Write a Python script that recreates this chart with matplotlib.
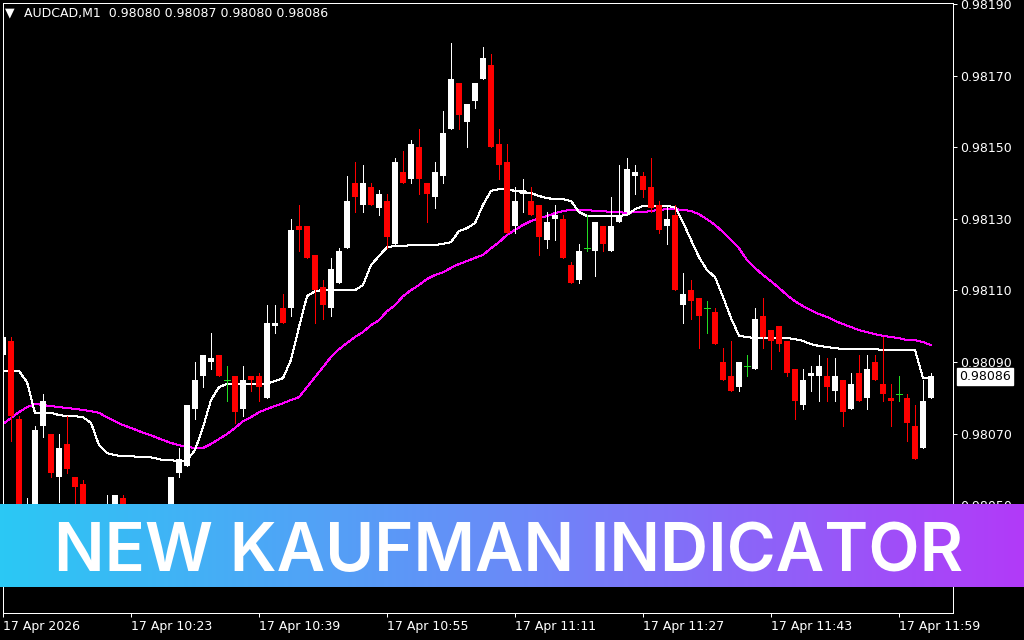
#!/usr/bin/env python3
# -*- coding: utf-8 -*-

"""AUDCAD M1 candles with Kaufman adaptive MA and a promo banner."""

import matplotlib
matplotlib.use("Agg")
import matplotlib.pyplot as plt
from matplotlib.colors import LinearSegmentedColormap
import numpy as np

# one-minute bars, 10:07 .. 12:03
opens = [
    0.98092, 0.98096, 0.98074, 0.98040, 0.98048, 0.98072, 0.98070, 0.98058, 0.98067, 0.98058,
    0.98056, 0.98045, 0.98039, 0.98041, 0.98045, 0.98052, 0.98043, 0.98036, 0.98038, 0.98041,
    0.98035, 0.98045, 0.98059, 0.98061, 0.98077, 0.98086, 0.98090, 0.98092, 0.98085, 0.98086,
    0.98077, 0.98086, 0.98086, 0.98080, 0.98100, 0.98105, 0.98105, 0.98128, 0.98128, 0.98120,
    0.98111, 0.98105, 0.98112, 0.98122, 0.98140, 0.98134, 0.98139, 0.98133, 0.98135, 0.98123,
    0.98143, 0.98141, 0.98150, 0.98140, 0.98136, 0.98142, 0.98155, 0.98168, 0.98157, 0.98163,
    0.98169, 0.98173, 0.98151, 0.98146, 0.98128, 0.98137, 0.98135, 0.98134, 0.98124, 0.98130,
    0.98130, 0.98117, 0.98113, 0.98122, 0.98121, 0.98128, 0.98121, 0.98129, 0.98132, 0.98142,
    0.98142, 0.98139, 0.98134, 0.98128, 0.98131, 0.98106, 0.98110, 0.98108, 0.98105, 0.98104,
    0.98090, 0.98086, 0.98083, 0.98089, 0.98088, 0.98103, 0.98099, 0.98100, 0.98096, 0.98088,
    0.98078, 0.98086, 0.98086, 0.98086, 0.98082, 0.98085, 0.98077, 0.98087, 0.98080, 0.98090,
    0.98084, 0.98080, 0.98081, 0.98080, 0.98072, 0.98066, 0.98080,
]
highs = [
    0.98100, 0.98097, 0.98075, 0.98052, 0.98072, 0.98081, 0.98070, 0.98070, 0.98075, 0.98058,
    0.98057, 0.98048, 0.98044, 0.98053, 0.98053, 0.98053, 0.98046, 0.98040, 0.98044, 0.98043,
    0.98047, 0.98058, 0.98066, 0.98078, 0.98090, 0.98092, 0.98098, 0.98092, 0.98089, 0.98086,
    0.98089, 0.98086, 0.98087, 0.98106, 0.98106, 0.98109, 0.98130, 0.98134, 0.98128, 0.98120,
    0.98113, 0.98119, 0.98122, 0.98142, 0.98146, 0.98145, 0.98140, 0.98138, 0.98137, 0.98147,
    0.98149, 0.98152, 0.98155, 0.98140, 0.98146, 0.98160, 0.98179, 0.98168, 0.98162, 0.98168,
    0.98178, 0.98176, 0.98155, 0.98151, 0.98139, 0.98141, 0.98139, 0.98134, 0.98132, 0.98134,
    0.98131, 0.98118, 0.98123, 0.98131, 0.98129, 0.98128, 0.98136, 0.98145, 0.98147, 0.98145,
    0.98143, 0.98147, 0.98135, 0.98134, 0.98134, 0.98115, 0.98113, 0.98108, 0.98107, 0.98105,
    0.98094, 0.98096, 0.98090, 0.98092, 0.98105, 0.98108, 0.98099, 0.98100, 0.98096, 0.98088,
    0.98088, 0.98089, 0.98092, 0.98091, 0.98091, 0.98085, 0.98087, 0.98092, 0.98092, 0.98092,
    0.98097, 0.98084, 0.98086, 0.98081, 0.98078, 0.98085, 0.98087,
]
lows = [
    0.98089, 0.98068, 0.98043, 0.98038, 0.98046, 0.98069, 0.98058, 0.98051, 0.98059, 0.98050,
    0.98042, 0.98036, 0.98034, 0.98038, 0.98043, 0.98040, 0.98034, 0.98030, 0.98035, 0.98033,
    0.98034, 0.98043, 0.98058, 0.98061, 0.98074, 0.98083, 0.98088, 0.98086, 0.98079, 0.98073,
    0.98075, 0.98082, 0.98079, 0.98080, 0.98098, 0.98101, 0.98103, 0.98121, 0.98119, 0.98101,
    0.98102, 0.98103, 0.98112, 0.98122, 0.98132, 0.98132, 0.98134, 0.98131, 0.98122, 0.98123,
    0.98140, 0.98140, 0.98137, 0.98129, 0.98133, 0.98140, 0.98155, 0.98155, 0.98150, 0.98161,
    0.98169, 0.98150, 0.98141, 0.98126, 0.98126, 0.98132, 0.98131, 0.98120, 0.98122, 0.98124,
    0.98119, 0.98112, 0.98112, 0.98121, 0.98114, 0.98121, 0.98121, 0.98129, 0.98132, 0.98137,
    0.98136, 0.98132, 0.98126, 0.98123, 0.98110, 0.98101, 0.98102, 0.98094, 0.98098, 0.98095,
    0.98085, 0.98082, 0.98082, 0.98086, 0.98088, 0.98094, 0.98088, 0.98093, 0.98086, 0.98074,
    0.98077, 0.98082, 0.98079, 0.98079, 0.98079, 0.98072, 0.98077, 0.98079, 0.98077, 0.98085,
    0.98079, 0.98072, 0.98079, 0.98068, 0.98063, 0.98066, 0.98080,
]
closes = [
    0.98097, 0.98075, 0.98046, 0.98049, 0.98071, 0.98079, 0.98059, 0.98066, 0.98060, 0.98055,
    0.98045, 0.98039, 0.98042, 0.98048, 0.98053, 0.98043, 0.98036, 0.98038, 0.98041, 0.98035,
    0.98045, 0.98058, 0.98063, 0.98078, 0.98085, 0.98092, 0.98091, 0.98086, 0.98085, 0.98076,
    0.98085, 0.98085, 0.98083, 0.98101, 0.98101, 0.98101, 0.98127, 0.98127, 0.98119, 0.98110,
    0.98106, 0.98116, 0.98121, 0.98135, 0.98136, 0.98140, 0.98134, 0.98137, 0.98125, 0.98146,
    0.98140, 0.98151, 0.98141, 0.98137, 0.98143, 0.98154, 0.98169, 0.98159, 0.98162, 0.98168,
    0.98175, 0.98150, 0.98145, 0.98126, 0.98135, 0.98138, 0.98131, 0.98125, 0.98129, 0.98131,
    0.98119, 0.98112, 0.98121, 0.98122, 0.98129, 0.98123, 0.98128, 0.98131, 0.98144, 0.98143,
    0.98138, 0.98133, 0.98127, 0.98130, 0.98110, 0.98109, 0.98107, 0.98103, 0.98105, 0.98095,
    0.98085, 0.98082, 0.98090, 0.98089, 0.98102, 0.98097, 0.98096, 0.98095, 0.98087, 0.98079,
    0.98085, 0.98087, 0.98089, 0.98083, 0.98086, 0.98076, 0.98084, 0.98079, 0.98088, 0.98085,
    0.98081, 0.98079, 0.98081, 0.98073, 0.98063, 0.98079, 0.98086,
]

# Kaufman adaptive moving average (white) and slow average (magenta)
kama = [
    0.980875, 0.980875, 0.980875, 0.980844, 0.980758, 0.980758, 0.980758, 0.980752, 0.980749, 0.980749,
    0.980746, 0.980730, 0.980668, 0.980646, 0.980640, 0.980637, 0.980637, 0.980635, 0.980635, 0.980632,
    0.980626, 0.980626, 0.980623, 0.980626, 0.980654, 0.980718, 0.980794, 0.980830, 0.980839, 0.980839,
    0.980839, 0.980839, 0.980839, 0.980839, 0.980847, 0.980855, 0.980906, 0.980998, 0.981084, 0.981098,
    0.981101, 0.981101, 0.981101, 0.981101, 0.981101, 0.981115, 0.981171, 0.981196, 0.981221, 0.981224,
    0.981224, 0.981227, 0.981227, 0.981227, 0.981227, 0.981230, 0.981235, 0.981266, 0.981274, 0.981288,
    0.981339, 0.981378, 0.981383, 0.981383, 0.981378, 0.981375, 0.981372, 0.981364, 0.981358, 0.981355,
    0.981355, 0.981350, 0.981319, 0.981308, 0.981308, 0.981308, 0.981308, 0.981308, 0.981311, 0.981327,
    0.981336, 0.981336, 0.981336, 0.981336, 0.981333, 0.981291, 0.981241, 0.981193, 0.981157, 0.981137,
    0.981082, 0.981023, 0.980973, 0.980970, 0.980967, 0.980967, 0.980967, 0.980967, 0.980967, 0.980964,
    0.980959, 0.980950, 0.980945, 0.980942, 0.980939, 0.980936, 0.980936, 0.980936, 0.980936, 0.980936,
    0.980934, 0.980934, 0.980934, 0.980934, 0.980934, 0.980855, 0.980855,
]
slow_ma = [
    0.980727, 0.980744, 0.980760, 0.980774, 0.980783, 0.980780, 0.980777, 0.980774, 0.980772, 0.980769,
    0.980766, 0.980763, 0.980758, 0.980746, 0.980735, 0.980724, 0.980716, 0.980707, 0.980699, 0.980691,
    0.980682, 0.980674, 0.980668, 0.980663, 0.980660, 0.980660, 0.980671, 0.980685, 0.980699, 0.980716,
    0.980735, 0.980746, 0.980760, 0.980769, 0.980777, 0.980785, 0.980794, 0.980802, 0.980830, 0.980858,
    0.980886, 0.980914, 0.980936, 0.980953, 0.980970, 0.980984, 0.981003, 0.981017, 0.981042, 0.981059,
    0.981084, 0.981101, 0.981115, 0.981132, 0.981143, 0.981151, 0.981163, 0.981174, 0.981182, 0.981191,
    0.981199, 0.981218, 0.981235, 0.981255, 0.981269, 0.981283, 0.981294, 0.981302, 0.981308, 0.981316,
    0.981322, 0.981325, 0.981325, 0.981325, 0.981322, 0.981322, 0.981319, 0.981319, 0.981316, 0.981319,
    0.981319, 0.981322, 0.981325, 0.981327, 0.981327, 0.981325, 0.981322, 0.981313, 0.981299, 0.981283,
    0.981263, 0.981241, 0.981218, 0.981185, 0.981163, 0.981143, 0.981126, 0.981107, 0.981087, 0.981070,
    0.981056, 0.981045, 0.981034, 0.981026, 0.981015, 0.981006, 0.980998, 0.980989, 0.980984, 0.980978,
    0.980973, 0.980970, 0.980967, 0.980961, 0.980961, 0.980956, 0.980947,
]

time_labels = ["17 Apr 2026", "17 Apr 10:23", "17 Apr 10:39", "17 Apr 10:55",
               "17 Apr 11:11", "17 Apr 11:27", "17 Apr 11:43", "17 Apr 11:59"]
time_label_bars = [0, 16, 32, 48, 64, 80, 96, 112]
price_ticks = [0.98190, 0.98170, 0.98150, 0.98130, 0.98110, 0.98090, 0.98070, 0.98050, 0.98030]

symbol = "AUDCAD,M1"
banner_text = "NEW KAUFMAN INDICATOR"

BULL = "#ffffff"
BEAR = "#ff0000"
DOJI = "#22dd22"
PX = 0.72  # one pixel in points at 100 dpi


def draw_candles(ax):
    """Draws the OHLC candles the MT4 way."""
    o = np.array(opens)
    h = np.array(highs)
    l = np.array(lows)
    c = np.array(closes)
    x = np.arange(len(o))
    colors = np.where(c > o, BULL, np.where(c < o, BEAR, DOJI))
    ax.vlines(x, l, h, colors=colors, lw=PX, zorder=3, antialiased=False)
    body_lo = np.minimum(o, c)
    body_h = np.maximum(np.abs(c - o), 3e-6)
    solid = c != o
    ax.bar(x[solid], body_h[solid], bottom=body_lo[solid], width=0.7,
           color=colors[solid], linewidth=0, zorder=4, antialiased=False)
    ax.hlines(o[~solid], x[~solid] - 0.33, x[~solid] + 0.33, colors=DOJI,
              lw=PX, zorder=4, antialiased=False)


def main():
    """Main function."""
    fig = plt.figure(figsize=(10.24, 6.4), dpi=100, facecolor="black")
    ax = fig.add_axes([3 / 1024, 27 / 640, 950 / 1024, 610 / 640])
    ax.set_facecolor("black")

    ax.plot(range(len(slow_ma)), slow_ma, color="#ff00ff", lw=PX, zorder=2,
            antialiased=False)
    ax.plot(range(len(kama)), kama, color="white", lw=PX, zorder=2,
            antialiased=False)
    draw_candles(ax)

    ax.set_xlim(0, 118.75)
    ax.set_ylim(0.980199, 0.981903)

    for s in ax.spines.values():
        s.set_color("white")
        s.set_linewidth(PX)

    ax.yaxis.tick_right()
    ax.set_yticks(price_ticks)
    ax.set_yticklabels([f"{p:.5f}" for p in price_ticks])
    ax.set_xticks(time_label_bars)
    ax.set_xticklabels(time_labels)
    for lab in ax.get_xticklabels():
        lab.set_horizontalalignment("left")
    ax.tick_params(colors="white", labelcolor="white", labelsize=9,
                   length=3, width=PX, pad=2)

    # current price tag
    ax.annotate(f"{closes[-1]:.5f}", xy=(1.0, closes[-1]),
                xycoords=("axes fraction", "data"), xytext=(4.5, 0),
                textcoords="offset points", va="center", ha="left",
                fontsize=9, color="black",
                bbox=dict(boxstyle="square,pad=0.15", fc="white", ec="white"))

    # header line
    fig.text(5 / 1024, 1 - 13 / 640, "\u25bc", color="white", fontsize=9,
             va="center", ha="left")
    header = f"{symbol}  {opens[-1]:.5f} {highs[-1]:.5f} {lows[-1]:.5f} {closes[-1]:.5f}"
    fig.text(24 / 1024, 1 - 14 / 640, header, color="white", fontsize=9,
             va="center", ha="left")

    # gradient banner
    bax = fig.add_axes([0, 53 / 640, 1, 83 / 640])
    cmap = LinearSegmentedColormap.from_list(
        "banner", ["#2bc8f4", "#6a8af8", "#b23af9"])
    bax.imshow(np.linspace(0, 1, 512).reshape(1, -1), aspect="auto",
               cmap=cmap, extent=[0, 1, 0, 1])
    bax.set_axis_off()
    bax.text(0.497, 0.19, banner_text, color="white", fontsize=48,
             fontweight="semibold", family="Inter", ha="center", va="baseline")

    fig.savefig("out.png", dpi=100, facecolor="black")


if __name__ == "__main__":
    main()
